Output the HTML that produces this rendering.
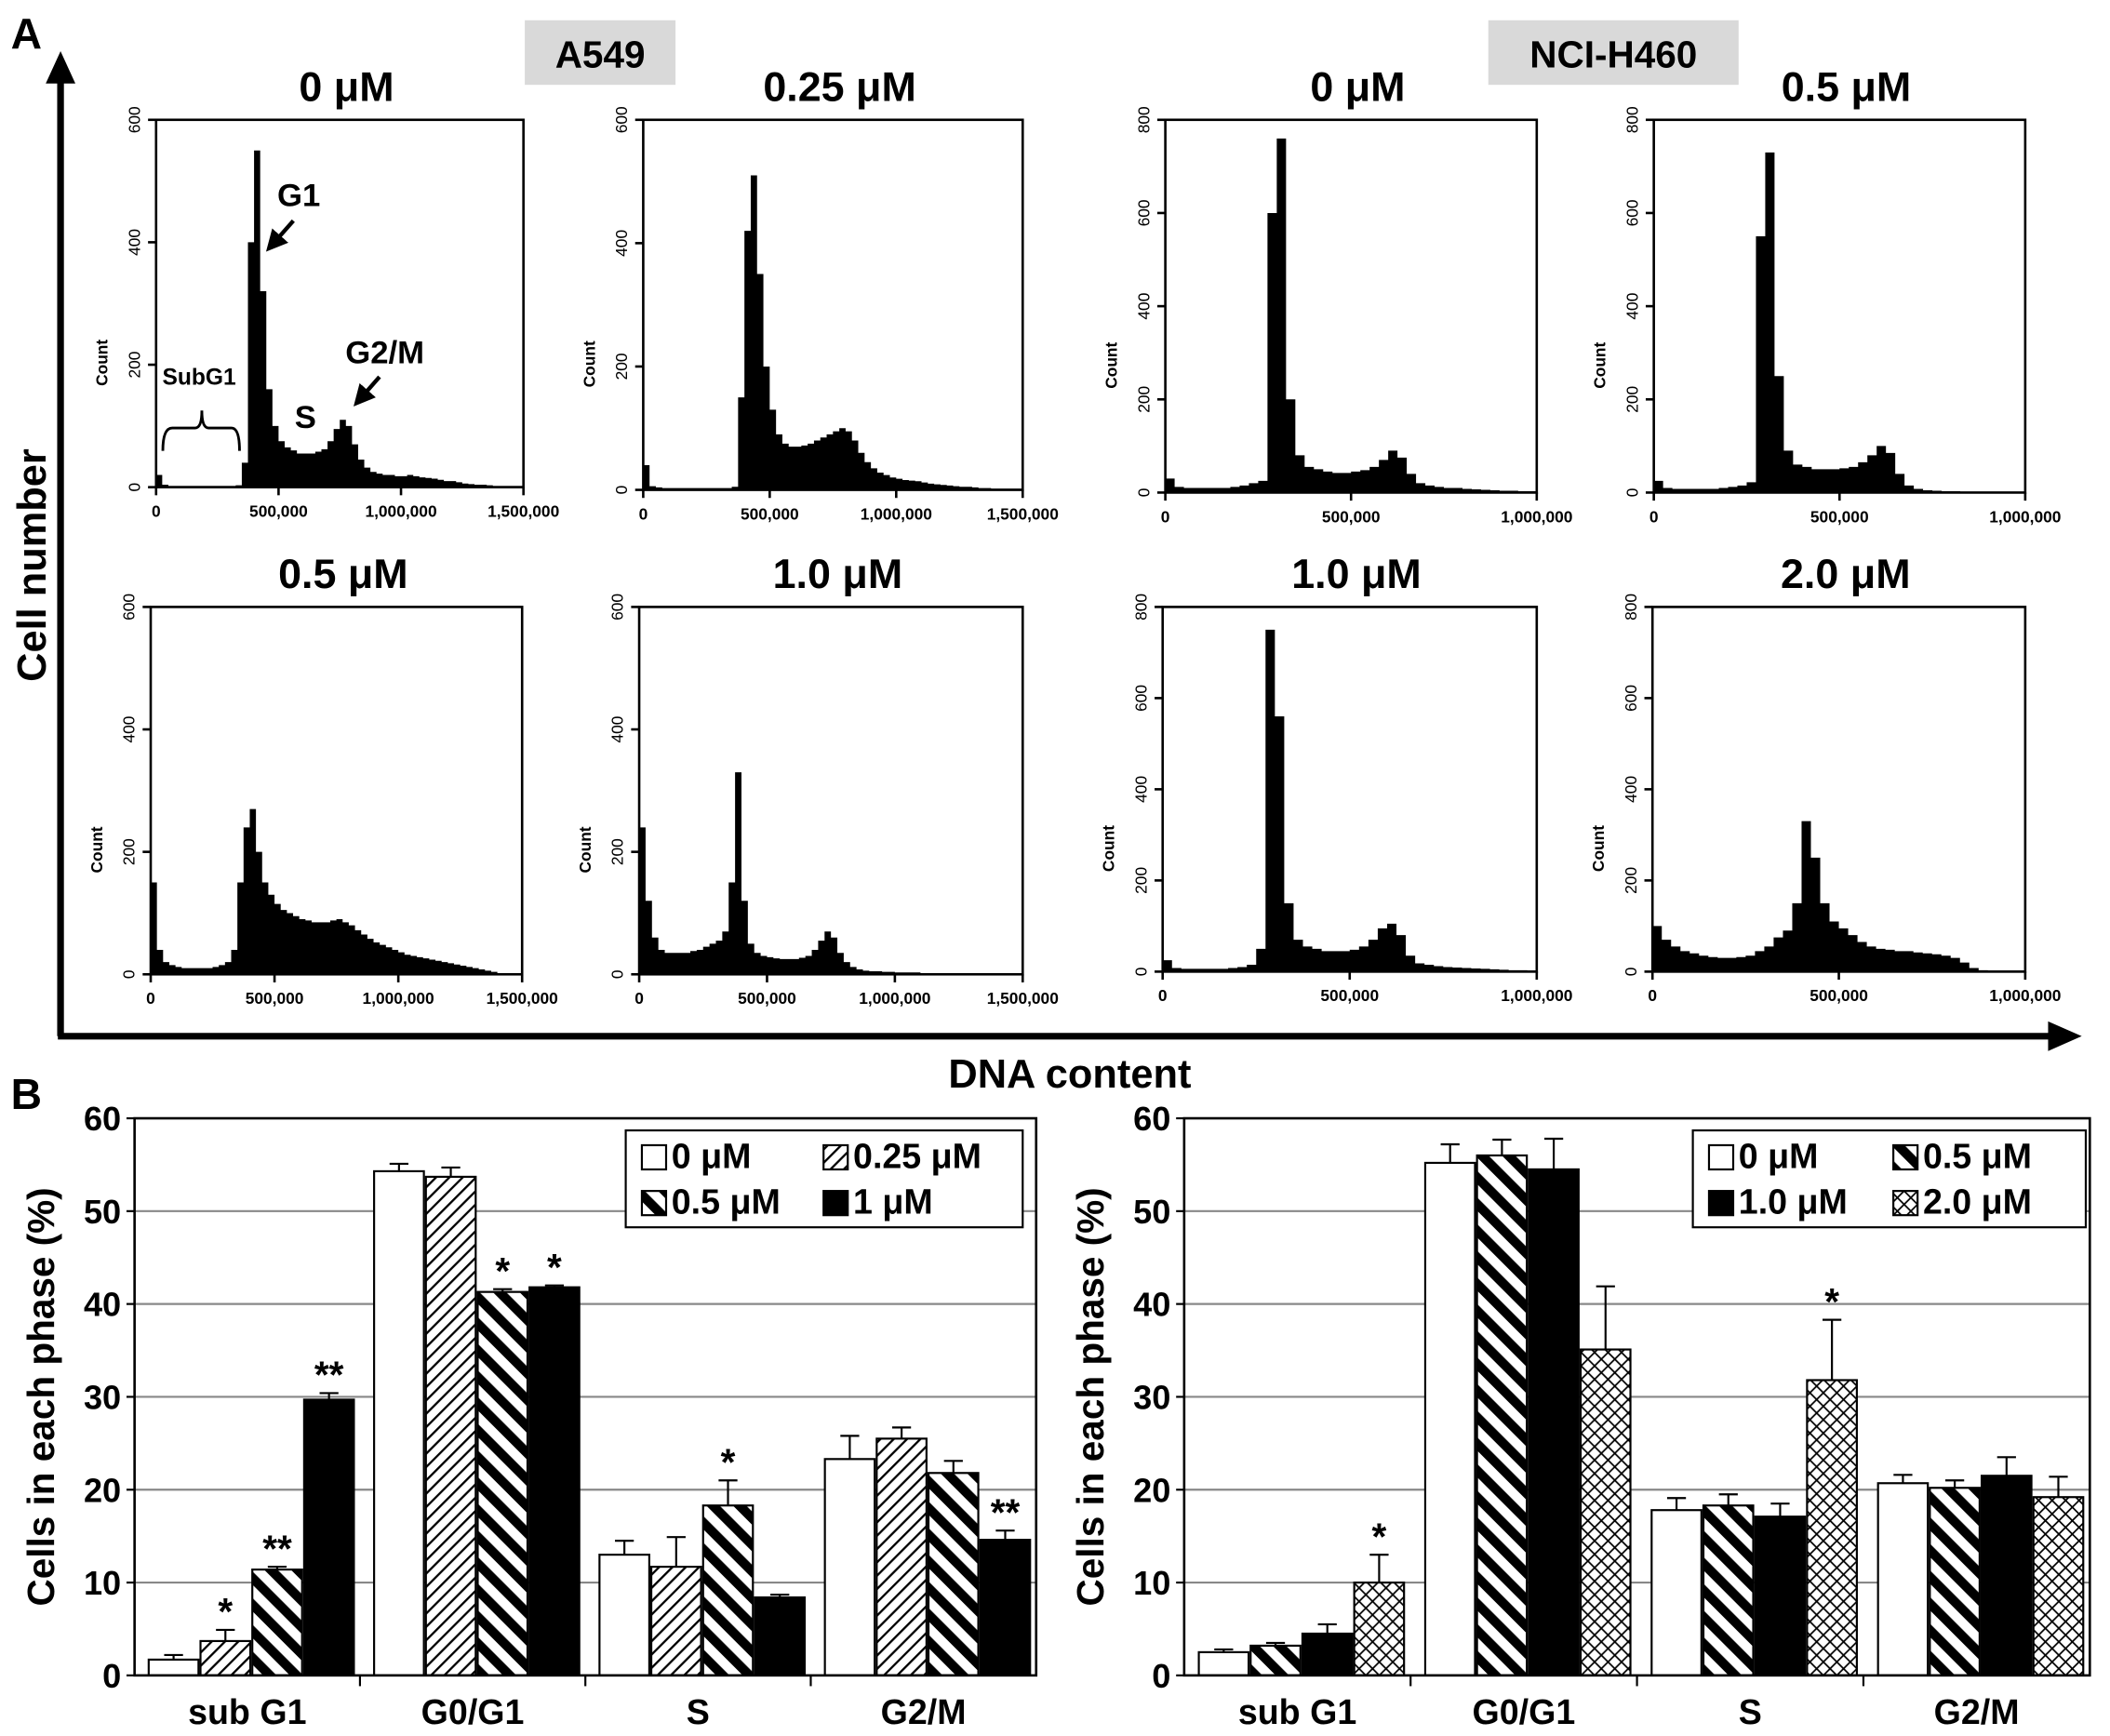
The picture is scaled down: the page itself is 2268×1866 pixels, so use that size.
<!DOCTYPE html>
<html><head><meta charset="utf-8"><style>
html,body{margin:0;padding:0;background:#fff;}
svg{display:block;font-family:"Liberation Sans",Arial,sans-serif;}
</style></head><body>
<svg id="fig" width="2268" height="1866" viewBox="0 0 1568 1290" xmlns="http://www.w3.org/2000/svg">
<defs>
<pattern id="pThin" patternUnits="userSpaceOnUse" width="7" height="7" patternTransform="rotate(45)"><rect width="7" height="7" fill="#fff"/><rect x="0" y="0" width="1.6" height="7" fill="#000"/></pattern>
<pattern id="pThick" patternUnits="userSpaceOnUse" width="14" height="14" patternTransform="rotate(-45)"><rect width="14" height="14" fill="#fff"/><rect x="0" y="0" width="7" height="14" fill="#000"/></pattern>
<pattern id="pCross" patternUnits="userSpaceOnUse" width="10" height="10"><rect width="10" height="10" fill="#fff"/><path d="M0,0L10,10M10,0L0,10" stroke="#000" stroke-width="1.2"/></pattern>
<marker id="arr" markerUnits="userSpaceOnUse" markerWidth="16" markerHeight="16" refX="8" refY="8" orient="auto"><path d="M0,0L16,8L0,16Z" fill="#000"/></marker>
</defs>
<g id="root"></g>
</svg>
<script>
// Histogram data (counts per 25,000 bin)
const h1 = [20,4,2,2,2,2,2,2,2,2,2,2,2,3,40,400,550,320,160,100,75,65,60,55,55,55,58,62,75,95,110,100,70,45,32,25,22,20,20,18,18,20,18,16,15,14,12,10,10,8,6,5,4,4,3,2,2,2,2,2];
const h2 = [40,6,4,3,3,3,3,3,3,3,3,3,3,3,5,150,420,510,350,200,130,90,75,70,70,72,75,80,85,90,95,100,95,80,60,45,35,28,24,20,18,16,15,14,12,10,9,8,7,6,5,5,4,3,3,2,2,2,2,2];
const h3 = [30,12,10,10,10,10,10,12,15,20,25,600,760,200,80,55,50,45,42,42,45,48,55,70,90,75,40,20,15,12,10,10,8,7,6,5,4,4,3,3];
const h4 = [25,10,8,8,8,8,8,10,12,15,22,550,730,250,90,60,55,50,50,50,52,55,65,80,100,85,40,15,8,5,4,3,3,2,2,2,2,2,2,2];
const h5 = [150,40,20,15,12,10,10,10,10,10,12,15,20,40,150,240,270,200,150,130,115,105,100,95,90,88,85,85,85,88,90,85,80,72,65,58,52,48,44,40,36,32,30,28,26,24,22,20,18,16,14,12,10,8,6,4,2,2,2,2];
const h6 = [240,120,60,40,35,35,35,35,38,40,45,50,55,70,150,330,120,50,35,30,28,26,25,25,25,27,30,40,55,70,60,35,20,12,8,6,5,5,4,4,3,3,3,3,2,2,2,2,2,2,2,2,2,2,2,2,2,2,2,2];
const h7 = [25,8,6,6,6,6,6,8,10,15,50,750,560,150,70,55,50,45,45,45,48,55,70,95,105,80,35,18,15,12,10,9,8,7,6,5,4,3,3,2];
const h8 = [100,70,55,45,40,35,32,30,30,32,35,45,55,75,90,150,330,250,150,110,95,80,65,55,50,48,45,45,42,40,38,35,30,20,8,3,2,2,2,2];
const yTicks600 = [0,200,400,600];
const yTicks800 = [0,200,400,600,800];
const xTicks15 = [0,500000,1000000,1500000];
const xTickLabels15 = ["0","500,000","1,000,000","1,500,000"];
const xTicks10 = [0,500000,1000000];
const xTickLabels10 = ["0","500,000","1,000,000"];
const histTitles = ["0 μM","0.25 μM","0 μM","0.5 μM","0.5 μM","1.0 μM","1.0 μM","2.0 μM"];

// Bar chart data
const cats = ["sub G1","G0/G1","S","G2/M"];
const leftSeriesNames = ["0 μM","0.25 μM","0.5 μM","1 μM"];
const leftV0 = [1.7,54.3,13.0,23.3];
const leftV1 = [3.7,53.7,11.7,25.5];
const leftV2 = [11.4,41.3,18.3,21.8];
const leftV3 = [29.7,41.8,8.4,14.6];
const leftE0 = [0.5,0.8,1.5,2.5];
const leftE1 = [1.2,1.0,3.2,1.2];
const leftE2 = [0.3,0.3,2.7,1.3];
const leftE3 = [0.7,0.2,0.3,1.0];
const leftStars = [["","","",""],["*","","",""],["**","*","*",""],["**","*","","**"]];
const rightSeriesNames = ["0 μM","0.5 μM","1.0 μM","2.0 μM"];
const rightV0 = [2.5,55.2,17.8,20.7];
const rightV1 = [3.2,56.0,18.3,20.2];
const rightV2 = [4.5,54.5,17.1,21.5];
const rightV3 = [10.0,35.1,31.8,19.2];
const rightE0 = [0.3,2.0,1.3,0.9];
const rightE1 = [0.3,1.7,1.2,0.8];
const rightE2 = [1.0,3.3,1.4,2.0];
const rightE3 = [3.0,6.8,6.5,2.2];
const rightStars = [["","","",""],["","","",""],["","","",""],["*","","*",""]];
const barYTicks = [0,10,20,30,40,50,60];

const NS = "http://www.w3.org/2000/svg";
const root = document.getElementById("root");
function mk(tag, attrs, parent, text){
  const e = document.createElementNS(NS, tag);
  for (const k in attrs) e.setAttribute(k, attrs[k]);
  if (text !== undefined) e.textContent = text;
  (parent || root).appendChild(e);
  return e;
}
let el;

el = mk("text",{x:8,y:36,"font-size":32,"font-weight":"bold"},root,"A");


el = mk("line",{x1:45,y1:770,x2:45,y2:58,stroke:"#000","stroke-width":5});


mk("path",{d:"M34,62L45,38L56,62Z",fill:"#000"});
el = mk("line",{x1:43,y1:770,x2:1525,y2:770,stroke:"#000","stroke-width":5});


mk("path",{d:"M1522,759L1547,770L1522,781Z",fill:"#000"});
el = mk("text",{x:0,y:0,"font-size":30,"font-weight":"bold","text-anchor":"middle",transform:"translate(34,420) rotate(-90)"},root,"Cell number");


el = mk("text",{x:795,y:808,"font-size":30,"font-weight":"bold","text-anchor":"middle"},root,"DNA content");


el = mk("rect",{x:390,y:15,width:112,height:48,fill:"#d9d9d9"});


el = mk("text",{x:446,y:50,"font-size":28,"font-weight":"bold","text-anchor":"middle"},root,"A549");


el = mk("rect",{x:1106,y:15,width:186,height:48,fill:"#d9d9d9"});


el = mk("text",{x:1199,y:50,"font-size":28,"font-weight":"bold","text-anchor":"middle"},root,"NCI-H460");



const histData = [h1,h2,h3,h4,h5,h6,h7,h8];
const layout = [
  {l:116,r:389,t:89,b:362,xmax:1500000,ymax:600},
  {l:478,r:760,t:89,b:364,xmax:1500000,ymax:600},
  {l:866,r:1142,t:89,b:366,xmax:1000000,ymax:800},
  {l:1229,r:1505,t:89,b:366,xmax:1000000,ymax:800},
  {l:112,r:388,t:451,b:724,xmax:1500000,ymax:600},
  {l:475,r:760,t:451,b:724,xmax:1500000,ymax:600},
  {l:864,r:1142,t:451,b:722,xmax:1000000,ymax:800},
  {l:1228,r:1505,t:451,b:722,xmax:1000000,ymax:800}
];
layout.forEach((p,i)=>{
  const g = mk("g",{});
  
  
  const xs = v => p.l + (v/p.xmax)*(p.r-p.l);
  const ys = v => p.b - (v/p.ymax)*(p.b-p.t);
  const data = histData[i];
  const bw = 25000;
  let d = "M"+xs(0)+","+p.b;
  data.forEach((v,j)=>{ d += "L"+xs(j*bw)+","+ys(v)+"L"+xs((j+1)*bw)+","+ys(v); });
  d += "L"+xs(data.length*bw)+","+p.b+"Z";
  el = mk("path",{d:d,fill:"#000"},g);
  
  
  el = mk("rect",{x:p.l,y:p.t,width:p.r-p.l,height:p.b-p.t,fill:"none",stroke:"#000","stroke-width":1.8},g);
  
  
  const yt = p.ymax===600 ? yTicks600 : yTicks800;
  yt.forEach(v=>{
    mk("line",{x1:p.l-6,x2:p.l,y1:ys(v),y2:ys(v),stroke:"#000","stroke-width":1.8},g);
    el = mk("text",{x:0,y:0,"font-size":12,"text-anchor":"middle",transform:"translate("+(p.l-12)+","+ys(v)+") rotate(-90)"},g,String(v));
    
    
  });
  el = mk("text",{x:0,y:0,"font-size":12,"font-weight":"bold","text-anchor":"middle",transform:"translate("+(p.l-36)+","+((p.t+p.b)/2+44)+") rotate(-90)"},g,"Count");
  
  
  const xt = p.xmax===1500000 ? xTicks15 : xTicks10;
  const xl = p.xmax===1500000 ? xTickLabels15 : xTickLabels10;
  xt.forEach((v,k)=>{
    mk("line",{x1:xs(v),x2:xs(v),y1:p.b,y2:p.b+6,stroke:"#000","stroke-width":1.8},g);
    el = mk("text",{x:xs(v),y:p.b+22,"font-size":12,"font-weight":"bold","text-anchor":"middle"},g,xl[k]);
    
    
  });
  el = mk("text",{x:(p.l+p.r)/2+5,y:p.t-14,"font-size":31,"font-weight":"bold","text-anchor":"middle"},g,histTitles[i]);
  
  
});
el = mk("text",{x:222,y:153,"font-size":24,"font-weight":"bold","text-anchor":"middle"},root,"G1");


mk("line",{x1:218,y1:164,x2:203,y2:181,stroke:"#000","stroke-width":3,"marker-end":"url(#arr)"});
el = mk("text",{x:286,y:270,"font-size":24,"font-weight":"bold","text-anchor":"middle"},root,"G2/M");


mk("line",{x1:282,y1:280,x2:268,y2:296,stroke:"#000","stroke-width":3,"marker-end":"url(#arr)"});
el = mk("text",{x:227,y:318,"font-size":24,"font-weight":"bold","text-anchor":"middle"},root,"S");


el = mk("text",{x:148,y:286,"font-size":17,"font-weight":"bold","text-anchor":"middle"},root,"SubG1");


el = mk("path",{d:"M121,335Q121,318 128,318L145,318Q150,318 150,305Q150,318 155,318L172,318Q178,318 178,335",fill:"none",stroke:"#000","stroke-width":2});



el = mk("text",{x:8,y:824,"font-size":32,"font-weight":"bold"},root,"B");


const fills = {left:["#fff","url(#pThin)","url(#pThick)","#000"], right:["#fff","url(#pThick)","#000","url(#pCross)"]};
function barChart(name, L, R, vals, errs, stars, names, fl, legend, shift){
  const T=831, B=1245;
  const g = mk("g",{});
  
  
  const ys = v => B - v/60*(B-T);
  const cw = (R-L)/cats.length;
  barYTicks.forEach(v=>{
    if (v>0 && v<60) mk("line",{x1:L,x2:R,y1:ys(v),y2:ys(v),stroke:"#888","stroke-width":1.5},g);
    mk("line",{x1:L-6,x2:L,y1:ys(v),y2:ys(v),stroke:"#000","stroke-width":1.5},g);
    el = mk("text",{x:L-10,y:ys(v)+9,"font-size":25,"font-weight":"bold","text-anchor":"end"},g,String(v));
    
    
  });
  el = mk("text",{x:0,y:0,"font-size":28,"font-weight":"bold","text-anchor":"middle",transform:"translate("+(L-60)+","+((T+B)/2)+") rotate(-90)"},g,"Cells in each phase (%)");
  
  
  const bw = 37, gap = 1.5;
  cats.forEach((c,ci)=>{
    const x0 = L + ci*cw + (cw - (4*bw+3*gap))/2 + shift;
    vals.forEach((arr,si)=>{
      const x = x0 + si*(bw+gap);
      const v = arr[ci], e = errs[si][ci];
      mk("line",{x1:x+bw/2,x2:x+bw/2,y1:ys(v),y2:ys(v+e),stroke:"#000","stroke-width":1.5},g);
      mk("line",{x1:x+bw/2-7,x2:x+bw/2+7,y1:ys(v+e),y2:ys(v+e),stroke:"#000","stroke-width":1.5},g);
      el = mk("rect",{x:x,y:ys(v),width:bw,height:B-ys(v),fill:fl[si],stroke:"#000","stroke-width":1.5},g);
      
      
      if (stars[si][ci]) {
        el = mk("text",{x:x+bw/2,y:ys(v+e)-4,"font-size":28,"font-weight":"bold","text-anchor":"middle"},g,stars[si][ci]);
        
        
      }
    });
    if (ci>0) mk("line",{x1:L+ci*cw,x2:L+ci*cw,y1:B,y2:B+8,stroke:"#000","stroke-width":1.5},g);
    el = mk("text",{x:L+ci*cw+cw/2,y:B+36,"font-size":26,"font-weight":"bold","text-anchor":"middle"},g,c);
    
    
  });
  el = mk("rect",{x:L,y:T,width:R-L,height:B-T,fill:"none",stroke:"#000","stroke-width":1.8},g);
  
  
  const lg = mk("g",{},g);
  
  
  mk("rect",{x:legend.x,y:840,width:legend.w,height:72,fill:"#fff",stroke:"#000","stroke-width":1.5},lg);
  names.forEach((n,si)=>{
    const col = si%2, row = Math.floor(si/2);
    const sx = legend.x + 12 + col*legend.colw, sy = 851 + row*34;
    mk("rect",{x:sx,y:sy,width:18,height:18,fill:fl[si],stroke:"#000","stroke-width":1.5},lg);
    el = mk("text",{x:sx+22,y:sy+17,"font-size":26,"font-weight":"bold"},lg,n);
    
    
  });
}
barChart("a549-cell-cycle-chart",100,770,[leftV0,leftV1,leftV2,leftV3],[leftE0,leftE1,leftE2,leftE3],leftStars,leftSeriesNames,fills.left,{x:465,w:295,colw:135},3);
barChart("h460-cell-cycle-chart",880,1553,[rightV0,rightV1,rightV2,rightV3],[rightE0,rightE1,rightE2,rightE3],rightStars,rightSeriesNames,fills.right,{x:1258,w:292,colw:137},3);
</script>
</body></html>
